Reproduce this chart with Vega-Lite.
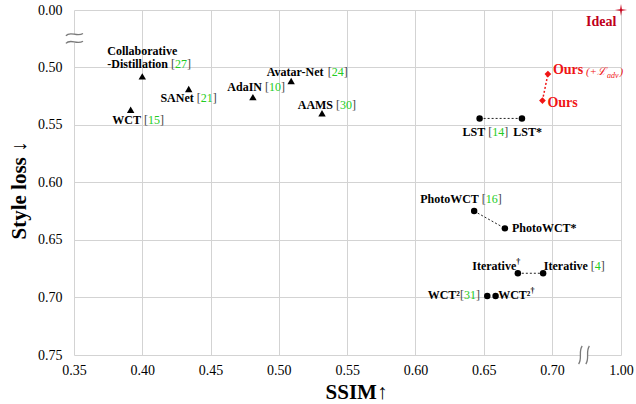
{
  "$schema": "https://vega.github.io/schema/vega-lite/v6.json",
  "width": 547,
  "height": 345,
  "autosize": {"type": "none"},
  "padding": {"left": 74, "top": 10, "right": 15, "bottom": 49},
  "background": "white",
  "config": {
    "view": {"stroke": null},
    "text": {"font": "Liberation Serif", "fontSize": 12, "fontWeight": "bold", "baseline": "middle", "align": "left", "color": "black"},
    "axis": {
      "labelFont": "Liberation Serif", "labelFontSize": 14, "labelColor": "#000",
      "titleFont": "Liberation Serif", "titleFontSize": 21, "titleFontWeight": "bold", "titleColor": "#000",
      "gridColor": "#d3d3d3", "gridWidth": 1, "gridOpacity": 1,
      "domain": false, "ticks": false, "labelFlush": false, "labelOverlap": false, "labelBound": false
    }
  },
  "data": {
    "values": [
      {"m": "WCT", "label": "WCT", "ref": "15", "ssim": 0.3915, "loss": 0.537, "kind": "tri"},
      {"m": "CD", "label": "Collaborative-Distillation", "ref": "27", "ssim": 0.400, "loss": 0.508, "kind": "tri"},
      {"m": "SANet", "label": "SANet", "ref": "21", "ssim": 0.434, "loss": 0.519, "kind": "tri"},
      {"m": "AdaIN", "label": "AdaIN", "ref": "10", "ssim": 0.481, "loss": 0.526, "kind": "tri"},
      {"m": "Avatar-Net", "label": "Avatar-Net", "ref": "24", "ssim": 0.509, "loss": 0.512, "kind": "tri"},
      {"m": "AAMS", "label": "AAMS", "ref": "30", "ssim": 0.5316, "loss": 0.540, "kind": "tri"},
      {"m": "LST", "label": "LST", "ref": "14", "ssim": 0.647, "loss": 0.5445, "kind": "dot", "pair": "LST"},
      {"m": "LST*", "label": "LST*", "ssim": 0.678, "loss": 0.5445, "kind": "dot", "pair": "LST"},
      {"m": "PhotoWCT", "label": "PhotoWCT", "ref": "16", "ssim": 0.643, "loss": 0.625, "kind": "dot", "pair": "PhotoWCT"},
      {"m": "PhotoWCT*", "label": "PhotoWCT*", "ssim": 0.6655, "loss": 0.640, "kind": "dot", "pair": "PhotoWCT"},
      {"m": "Iterative†", "label": "Iterative", "sup": "†", "ssim": 0.675, "loss": 0.679, "kind": "dot", "pair": "Iterative"},
      {"m": "Iterative", "label": "Iterative", "ref": "4", "ssim": 0.6935, "loss": 0.679, "kind": "dot", "pair": "Iterative"},
      {"m": "WCT²", "label": "WCT²", "ref": "31", "ssim": 0.6526, "loss": 0.6988, "kind": "dot"},
      {"m": "WCT²†", "label": "WCT²", "sup": "†", "ssim": 0.6587, "loss": 0.6988, "kind": "dot"},
      {"m": "Ours+adv", "label": "Ours", "pre": "(+ℒ", "sub": "adv", "post": ")", "ssim": 0.697, "loss": 0.506, "kind": "ours", "pair": "Ours"},
      {"m": "Ours", "label": "Ours", "ssim": 0.693, "loss": 0.529, "kind": "ours", "pair": "Ours"},
      {"m": "Ideal", "label": "Ideal", "ssim": 1.0, "loss": 0.0, "kind": "ideal"}
    ]
  },
  "encoding": {
    "x": {
      "field": "ssim", "type": "quantitative",
      "scale": {"domain": [0.35, 0.70, 1.00], "range": [0, 478, 547], "nice": false, "zero": false},
      "axis": {"values": [0.35, 0.40, 0.45, 0.50, 0.55, 0.60, 0.65, 0.70, 1.00], "format": ".2f", "labelPadding": 8,
               "title": "SSIM↑", "titleX": 282, "titleY": 43, "titleBaseline": "alphabetic", "titleAnchor": "start", "titleAlign": "center"}
    },
    "y": {
      "field": "loss", "type": "quantitative",
      "scale": {"domain": [0.0, 0.50, 0.75], "range": [0, 57.2, 345], "nice": false, "zero": false},
      "axis": {"values": [0.0, 0.50, 0.55, 0.60, 0.65, 0.70, 0.75], "format": ".2f", "labelPadding": 12,
               "title": "Style loss ↓", "titleX": -55, "titleY": 180, "titleBaseline": "middle", "titleAlign": "center", "titleAngle": 270}
    }
  },
  "layer": [
    {
      "transform": [{"filter": "datum.m == 'Ideal'"}],
      "mark": {"type": "rule", "color": "white", "strokeWidth": 5},
      "encoding": {"x": {"datum": 0.35, "type": "quantitative"}, "y": {"datum": 0.215, "type": "quantitative"}, "y2": {"datum": 0.285}}
    },
    {
      "transform": [{"filter": "datum.m == 'Ideal'"}],
      "mark": {"type": "rule", "color": "white", "strokeWidth": 5},
      "encoding": {"x": {"datum": 0.8265, "type": "quantitative"}, "x2": {"datum": 0.852}, "y": {"datum": 0.75, "type": "quantitative"}}
    },
    {
      "transform": [{"filter": "datum.m == 'Ideal'"}],
      "mark": {"type": "point", "filled": false, "color": "#7a7a7a", "strokeWidth": 1.3, "opacity": 1, "size": 324,
               "shape": "M-0.9,-0.3 C-0.4,-0.9 0.3,-0.1 1.0,-0.55 M-0.9,0.55 C-0.4,-0.05 0.3,0.75 1.0,0.3"},
      "encoding": {"x": {"datum": 0.35, "type": "quantitative"}, "y": {"datum": 0.249, "type": "quantitative"}}
    },
    {
      "transform": [{"filter": "datum.m == 'Ideal'"}],
      "mark": {"type": "point", "filled": false, "color": "#7a7a7a", "strokeWidth": 1.3, "opacity": 1, "size": 324,
               "shape": "M-0.6,1 C-0.15,0.4 -0.65,-0.4 -0.2,-1 M0.2,1 C0.65,0.4 0.15,-0.4 0.6,-1"},
      "encoding": {"x": {"datum": 0.8391, "type": "quantitative"}, "y": {"datum": 0.75, "type": "quantitative"}}
    },
    {
      "transform": [{"filter": "datum.pair == 'LST' || datum.pair == 'PhotoWCT' || datum.pair == 'Iterative'"}],
      "mark": {"type": "line", "color": "#222", "strokeWidth": 1, "strokeDash": [2, 2]},
      "encoding": {"detail": {"field": "pair"}}
    },
    {
      "transform": [{"filter": "datum.pair == 'Ours'"}],
      "mark": {"type": "line", "color": "#f01515", "strokeWidth": 1.5, "strokeDash": [2, 2]},
      "encoding": {"detail": {"field": "pair"}}
    },
    {
      "transform": [{"filter": "datum.kind == 'tri'"}],
      "mark": {"type": "point", "shape": "triangle-up", "filled": true, "color": "black", "opacity": 1, "size": 55},
      "encoding": {}
    },
    {
      "transform": [{"filter": "datum.kind == 'dot'"}],
      "mark": {"type": "point", "shape": "circle", "filled": true, "color": "black", "opacity": 1, "size": 42},
      "encoding": {}
    },
    {
      "transform": [{"filter": "datum.kind == 'ours'"}],
      "mark": {"type": "point", "shape": "diamond", "filled": true, "color": "#f01515", "opacity": 1, "size": 45},
      "encoding": {}
    },
    {
      "transform": [{"filter": "datum.kind == 'ideal'"}],
      "mark": {"type": "point", "filled": true, "color": "#c8001a", "opacity": 1, "size": 150,
               "shape": "M0,-1 L0.14,-0.14 L1,0 L0.14,0.14 L0,1 L-0.14,0.14 L-1,0 L-0.14,-0.14 Z"},
      "encoding": {}
    },
    {
      "transform": [{"filter": "datum.m == 'CD'"}],
      "layer": [
        {"mark": {"type": "text", "dx": -35, "dy": -25.5, "text": "Collaborative"}, "encoding": {}},
        {"mark": {"type": "text", "dx": -35, "dy": -12, "text": "-Distillation"}, "encoding": {}},
        {"mark": {"type": "text", "dx": 28.7, "dy": -12, "fontWeight": "normal", "color": "#444", "text": "["}, "encoding": {}},
        {"mark": {"type": "text", "dx": 32.7, "dy": -12, "fontWeight": "normal", "color": "#22cc22"}, "encoding": {"text": {"field": "ref"}}},
        {"mark": {"type": "text", "dx": 44.7, "dy": -12, "fontWeight": "normal", "color": "#444", "text": "]"}, "encoding": {}}
      ]
    },
    {
      "transform": [{"filter": "datum.m == 'SANet'"}],
      "layer": [
        {"mark": {"type": "text", "dx": -28.3, "dy": 9.4}, "encoding": {"text": {"field": "label"}}},
        {"mark": {"type": "text", "dx": 8, "dy": 9.4, "fontWeight": "normal", "color": "#444", "text": "["}, "encoding": {}},
        {"mark": {"type": "text", "dx": 12, "dy": 9.4, "fontWeight": "normal", "color": "#22cc22"}, "encoding": {"text": {"field": "ref"}}},
        {"mark": {"type": "text", "dx": 24, "dy": 9.4, "fontWeight": "normal", "color": "#444", "text": "]"}, "encoding": {}}
      ]
    },
    {
      "transform": [{"filter": "datum.m == 'AdaIN'"}],
      "layer": [
        {"mark": {"type": "text", "dx": -25.6, "dy": -10}, "encoding": {"text": {"field": "label"}}},
        {"mark": {"type": "text", "dx": 12, "dy": -10, "fontWeight": "normal", "color": "#444", "text": "["}, "encoding": {}},
        {"mark": {"type": "text", "dx": 16, "dy": -10, "fontWeight": "normal", "color": "#22cc22"}, "encoding": {"text": {"field": "ref"}}},
        {"mark": {"type": "text", "dx": 28, "dy": -10, "fontWeight": "normal", "color": "#444", "text": "]"}, "encoding": {}}
      ]
    },
    {
      "transform": [{"filter": "datum.m == 'Avatar-Net'"}],
      "layer": [
        {"mark": {"type": "text", "dx": -24.3, "dy": -9.3}, "encoding": {"text": {"field": "label"}}},
        {"mark": {"type": "text", "dx": 36.7, "dy": -9.3, "fontWeight": "normal", "color": "#444", "text": "["}, "encoding": {}},
        {"mark": {"type": "text", "dx": 40.7, "dy": -9.3, "fontWeight": "normal", "color": "#22cc22"}, "encoding": {"text": {"field": "ref"}}},
        {"mark": {"type": "text", "dx": 52.7, "dy": -9.3, "fontWeight": "normal", "color": "#444", "text": "]"}, "encoding": {}}
      ]
    },
    {
      "transform": [{"filter": "datum.m == 'AAMS'"}],
      "layer": [
        {"mark": {"type": "text", "dx": -24.3, "dy": -8.3}, "encoding": {"text": {"field": "label"}}},
        {"mark": {"type": "text", "dx": 14, "dy": -8.3, "fontWeight": "normal", "color": "#444", "text": "["}, "encoding": {}},
        {"mark": {"type": "text", "dx": 18, "dy": -8.3, "fontWeight": "normal", "color": "#22cc22"}, "encoding": {"text": {"field": "ref"}}},
        {"mark": {"type": "text", "dx": 30, "dy": -8.3, "fontWeight": "normal", "color": "#444", "text": "]"}, "encoding": {}}
      ]
    },
    {
      "transform": [{"filter": "datum.m == 'WCT'"}],
      "layer": [
        {"mark": {"type": "text", "dx": -18.4, "dy": 10.7}, "encoding": {"text": {"field": "label"}}},
        {"mark": {"type": "text", "dx": 13.3, "dy": 10.7, "fontWeight": "normal", "color": "#444", "text": "["}, "encoding": {}},
        {"mark": {"type": "text", "dx": 17.3, "dy": 10.7, "fontWeight": "normal", "color": "#22cc22"}, "encoding": {"text": {"field": "ref"}}},
        {"mark": {"type": "text", "dx": 29.3, "dy": 10.7, "fontWeight": "normal", "color": "#444", "text": "]"}, "encoding": {}}
      ]
    },
    {
      "transform": [{"filter": "datum.m == 'LST'"}],
      "layer": [
        {"mark": {"type": "text", "dx": -17, "dy": 13.7}, "encoding": {"text": {"field": "label"}}},
        {"mark": {"type": "text", "dx": 8.7, "dy": 13.7, "fontWeight": "normal", "color": "#444", "text": "["}, "encoding": {}},
        {"mark": {"type": "text", "dx": 12.7, "dy": 13.7, "fontWeight": "normal", "color": "#22cc22"}, "encoding": {"text": {"field": "ref"}}},
        {"mark": {"type": "text", "dx": 24.7, "dy": 13.7, "fontWeight": "normal", "color": "#444", "text": "]"}, "encoding": {}}
      ]
    },
    {
      "transform": [{"filter": "datum.m == 'LST*'"}],
      "mark": {"type": "text", "dx": -8.7, "dy": 13.7},
      "encoding": {"text": {"field": "label"}}
    },
    {
      "transform": [{"filter": "datum.m == 'PhotoWCT'"}],
      "layer": [
        {"mark": {"type": "text", "dx": -54, "dy": -12.3}, "encoding": {"text": {"field": "label"}}},
        {"mark": {"type": "text", "dx": 7.7, "dy": -12.3, "fontWeight": "normal", "color": "#444", "text": "["}, "encoding": {}},
        {"mark": {"type": "text", "dx": 11.7, "dy": -12.3, "fontWeight": "normal", "color": "#22cc22"}, "encoding": {"text": {"field": "ref"}}},
        {"mark": {"type": "text", "dx": 23.7, "dy": -12.3, "fontWeight": "normal", "color": "#444", "text": "]"}, "encoding": {}}
      ]
    },
    {
      "transform": [{"filter": "datum.m == 'PhotoWCT*'"}],
      "mark": {"type": "text", "dx": 7, "dy": 0},
      "encoding": {"text": {"field": "label"}}
    },
    {
      "transform": [{"filter": "datum.m == 'Iterative†'"}],
      "layer": [
        {"mark": {"type": "text", "dx": -45.6, "dy": -7}, "encoding": {"text": {"field": "label"}}},
        {"mark": {"type": "text", "dx": -1.6, "dy": -11, "fontSize": 8}, "encoding": {"text": {"field": "sup"}}}
      ]
    },
    {
      "transform": [{"filter": "datum.m == 'Iterative'"}],
      "layer": [
        {"mark": {"type": "text", "dx": 0.7, "dy": -7}, "encoding": {"text": {"field": "label"}}},
        {"mark": {"type": "text", "dx": 47.7, "dy": -7, "fontWeight": "normal", "color": "#444", "text": "["}, "encoding": {}},
        {"mark": {"type": "text", "dx": 51.7, "dy": -7, "fontWeight": "normal", "color": "#22cc22"}, "encoding": {"text": {"field": "ref"}}},
        {"mark": {"type": "text", "dx": 57.7, "dy": -7, "fontWeight": "normal", "color": "#444", "text": "]"}, "encoding": {}}
      ]
    },
    {
      "transform": [{"filter": "datum.m == 'WCT²'"}],
      "layer": [
        {"mark": {"type": "text", "dx": -27.3, "dy": -1, "align": "right"}, "encoding": {"text": {"field": "label"}}},
        {"mark": {"type": "text", "dx": -23.3, "dy": -1, "align": "right", "fontWeight": "normal", "color": "#444", "text": "["}, "encoding": {}},
        {"mark": {"type": "text", "dx": -11.3, "dy": -1, "align": "right", "fontWeight": "normal", "color": "#22cc22"}, "encoding": {"text": {"field": "ref"}}},
        {"mark": {"type": "text", "dx": -7.3, "dy": -1, "align": "right", "fontWeight": "normal", "color": "#444", "text": "]"}, "encoding": {}}
      ]
    },
    {
      "transform": [{"filter": "datum.m == 'WCT²†'"}],
      "layer": [
        {"mark": {"type": "text", "dx": 2.6, "dy": -1}, "encoding": {"text": {"field": "label"}}},
        {"mark": {"type": "text", "dx": 34.9, "dy": -5, "fontSize": 8}, "encoding": {"text": {"field": "sup"}}}
      ]
    },
    {
      "transform": [{"filter": "datum.m == 'Ours+adv'"}],
      "layer": [
        {"mark": {"type": "text", "dx": 5, "dy": -4.3, "fontSize": 14, "color": "#f01515"}, "encoding": {"text": {"field": "label"}}},
        {"mark": {"type": "text", "dx": 38, "dy": -2.5, "fontSize": 11, "fontWeight": "normal", "fontStyle": "italic", "color": "#f01515"}, "encoding": {"text": {"field": "pre"}}},
        {"mark": {"type": "text", "dx": 59, "dy": 1.5, "fontSize": 8, "fontWeight": "normal", "fontStyle": "italic", "color": "#f01515"}, "encoding": {"text": {"field": "sub"}}},
        {"mark": {"type": "text", "dx": 71.5, "dy": -2.5, "fontSize": 11, "fontWeight": "normal", "fontStyle": "italic", "color": "#f01515"}, "encoding": {"text": {"field": "post"}}}
      ]
    },
    {
      "transform": [{"filter": "datum.m == 'Ours'"}],
      "mark": {"type": "text", "dx": 5, "dy": 2.3, "fontSize": 14, "color": "#f01515"},
      "encoding": {"text": {"field": "label"}}
    },
    {
      "transform": [{"filter": "datum.m == 'Ideal'"}],
      "mark": {"type": "text", "dx": -4.7, "dy": 11.7, "fontSize": 14, "align": "right", "color": "#c0001a"},
      "encoding": {"text": {"field": "label"}}
    }
  ]
}
